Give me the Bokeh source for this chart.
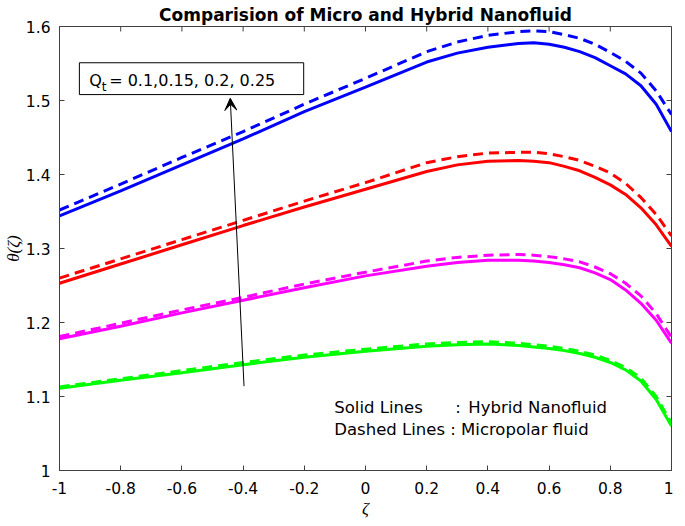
import math
from bokeh.plotting import figure
from bokeh.models import Range1d, Arrow, VeeHead, FixedTicker, Title
from bokeh.core.properties import value
from bokeh.embed import file_html
from bokeh.resources import INLINE

zeta = [-1, -0.8, -0.6, -0.4, -0.2, 0, 0.2, 0.3, 0.4, 0.5, 0.55, 0.6, 0.65, 0.7, 0.75, 0.8, 0.85, 0.9, 0.95, 1]

blue_solid = [1.344, 1.378, 1.413, 1.448, 1.485, 1.518, 1.552, 1.564, 1.572, 1.577, 1.578, 1.576, 1.572, 1.566, 1.558, 1.547, 1.536, 1.520, 1.495, 1.458]
blue_dashed = [1.352, 1.387, 1.423, 1.458, 1.495, 1.530, 1.566, 1.579, 1.588, 1.593, 1.594, 1.593, 1.589, 1.584, 1.576, 1.565, 1.553, 1.537, 1.513, 1.481]
red_solid = [1.253, 1.279, 1.305, 1.331, 1.356, 1.380, 1.404, 1.413, 1.418, 1.419, 1.418, 1.416, 1.411, 1.405, 1.396, 1.386, 1.373, 1.355, 1.332, 1.303]
red_dashed = [1.260, 1.286, 1.312, 1.338, 1.364, 1.389, 1.416, 1.424, 1.429, 1.430, 1.430, 1.428, 1.424, 1.419, 1.411, 1.402, 1.388, 1.369, 1.346, 1.317]
mag_solid = [1.178, 1.195, 1.213, 1.230, 1.247, 1.263, 1.276, 1.281, 1.284, 1.284, 1.283, 1.281, 1.278, 1.274, 1.267, 1.258, 1.244, 1.226, 1.203, 1.172]
mag_dashed = [1.181, 1.199, 1.217, 1.234, 1.252, 1.268, 1.283, 1.288, 1.291, 1.292, 1.291, 1.289, 1.286, 1.282, 1.275, 1.266, 1.253, 1.236, 1.212, 1.180]
green_solid = [1.111, 1.122, 1.132, 1.143, 1.153, 1.161, 1.168, 1.170, 1.171, 1.169, 1.167, 1.165, 1.162, 1.158, 1.153, 1.146, 1.136, 1.121, 1.096, 1.060]
green_dashed = [1.113, 1.124, 1.135, 1.146, 1.156, 1.164, 1.171, 1.173, 1.174, 1.172, 1.170, 1.168, 1.165, 1.161, 1.156, 1.149, 1.139, 1.125, 1.100, 1.064]

x_ticks = [-1, -0.8, -0.6, -0.4, -0.2, 0, 0.2, 0.4, 0.6, 0.8, 1]
x_tick_labels = ["-1", "-0.8", "-0.6", "-0.4", "-0.2", "0", "0.2", "0.4", "0.6", "0.8", "1"]
y_ticks = [1, 1.1, 1.2, 1.3, 1.4, 1.5, 1.6]
y_tick_labels = ["1", "1.1", "1.2", "1.3", "1.4", "1.5", "1.6"]

title_text = "Comparision of Micro and Hybrid Nanofluid"
FONT = "DejaVu Sans"
AXC = "#404040"

p = figure(frame_width=612, frame_height=444, output_backend="svg", toolbar_location=None,
           x_range=Range1d(-1, 1), y_range=Range1d(1, 1.6),
           min_border_left=55, min_border_right=2, min_border_top=22, min_border_bottom=45)
p.title = Title(text=title_text, align="center", text_font=FONT, text_font_size="17px",
                text_font_style="bold", text_color="black", standoff=4, offset=0)
p.xgrid.visible = False
p.ygrid.visible = False
p.outline_line_color = AXC
p.background_fill_color = "white"

def style_axis(ax, ticks, labels):
    ax.ticker = FixedTicker(ticks=ticks)
    ax.major_label_overrides = {t: l for t, l in zip(ticks, labels)}
    ax.major_tick_in = 5
    ax.major_tick_out = 0
    ax.minor_tick_line_color = None
    ax.axis_line_color = AXC
    ax.major_tick_line_color = AXC
    ax.major_label_text_font = FONT
    ax.major_label_text_font_size = "15.5px"
    ax.major_label_text_color = "black"

style_axis(p.xaxis[0], x_ticks, x_tick_labels)
style_axis(p.yaxis[0], y_ticks, y_tick_labels)
p.xaxis[0].major_label_standoff = 11
p.yaxis[0].major_label_standoff = 9
p.xaxis[0].axis_label = "ζ"
p.yaxis[0].axis_label = "θ(ζ)"
for ax in (p.xaxis[0], p.yaxis[0]):
    ax.axis_label_text_font = "Liberation Serif"
    ax.axis_label_text_font_style = "italic"
    ax.axis_label_text_font_size = "17px"
    ax.axis_label_text_color = "black"
p.xaxis[0].axis_label_standoff = 2
p.yaxis[0].axis_label_standoff = 0

# inward ticks on the top and right edges of the box
p.ray(x=x_ticks, y=[1.6] * len(x_ticks), length=5, length_units="screen",
      angle=-math.pi / 2, line_color=AXC, line_width=1)
p.ray(x=[1] * len(y_ticks), y=y_ticks, length=5, length_units="screen",
      angle=math.pi, line_color=AXC, line_width=1)

series = [
    (green_solid, green_dashed, "#00FF00"),
    (mag_solid, mag_dashed, "#FF00FF"),
    (red_solid, red_dashed, "#FF0000"),
    (blue_solid, blue_dashed, "#0000FF"),
]
for s, d, c in series:
    p.line(zeta, s, line_color=c, line_width=3)
    p.line(zeta, d, line_color=c, line_width=3, line_dash="10 6")

# annotation arrow
p.add_layout(Arrow(x_start=-0.397, y_start=1.114, x_end=-0.442, y_end=1.503,
                   line_color="black", line_width=1,
                   end=VeeHead(size=12, fill_color="black", line_color="black")))

# annotation box
p.quad(left=[-0.935], right=[-0.202], bottom=[1.508], top=[1.551],
       fill_color="white", line_color="black", line_width=1)
p.text(x=[-0.903], y=[1.527], text=["Q"], text_font=value(FONT), text_font_size="16px",
       text_baseline="middle", text_color="black")
p.text(x=[-0.903], y=[1.527], text=["t"], text_font=value(FONT), text_font_size="12px",
       text_baseline="middle", text_color="black", x_offset=12.5, y_offset=6)
p.text(x=[-0.903], y=[1.527], text=["= 0.1,0.15, 0.2, 0.25"], text_font=value(FONT),
       text_font_size="16px", text_baseline="middle", text_color="black", x_offset=20)

# line-style notes
p.text(x=[-0.102], y=[1.085], text=["Solid Lines"], text_font=value(FONT), text_font_size="16.5px",
       text_baseline="middle", text_color="black")
p.text(x=[0.293], y=[1.085], text=[":"], text_font=value(FONT), text_font_size="16.5px",
       text_baseline="middle", text_color="black")
p.text(x=[0.336], y=[1.085], text=["Hybrid Nanofluid"], text_font=value(FONT), text_font_size="16.5px",
       text_baseline="middle", text_color="black")
p.text(x=[-0.102], y=[1.055], text=["Dashed Lines : Micropolar fluid"], text_font=value(FONT),
       text_font_size="16.5px", text_baseline="middle", text_color="black")

open("out.html", "w").write(file_html(p, INLINE))
